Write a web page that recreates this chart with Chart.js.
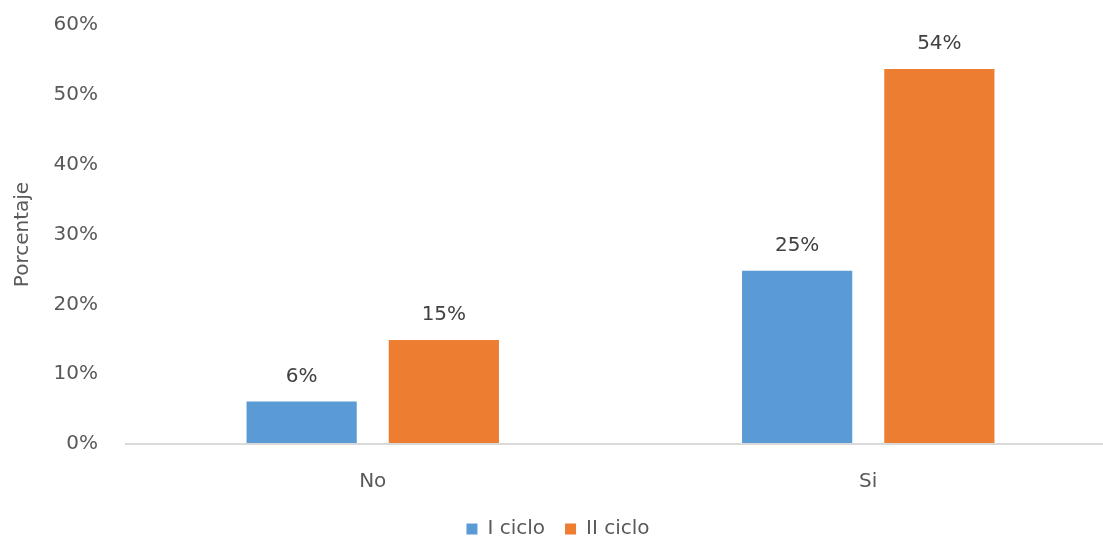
<!DOCTYPE html>
<html>
<head>
<meta charset="utf-8">
<script src="https://cdn.jsdelivr.net/npm/chart.js@4.4.0/dist/chart.umd.min.js"></script>
<style>
  html, body { margin: 0; padding: 0; background: #fff; overflow: hidden; }
  #wrap { position: relative; width: 1116px; height: 549px; }
</style>
</head>
<body>
<div id="wrap"><canvas id="chart"></canvas></div>
<script>
const categories = ["No", "Si"];
const seriesNames = ["I ciclo", "II ciclo"];
const cicloI = [6.1, 24.8];
const cicloII = [14.9, 53.7];
const yTicks = [0, 10, 20, 30, 40, 50, 60];

const FONT = "'DejaVu Sans', sans-serif";
const TEXT = "#595959";

// value labels above each bar
const barLabels = {
    id: "barLabels",
    afterDatasetsDraw(chart) {
        const ctx = chart.ctx;
        ctx.save();
        ctx.font = "20px " + FONT;
        ctx.fillStyle = "#404040";
        ctx.textAlign = "center";
        ctx.textBaseline = "middle";
        chart.data.datasets.forEach((ds, i) => {
            chart.getDatasetMeta(i).data.forEach((bar, j) => {
                ctx.fillText(Math.round(ds.data[j]) + "%", bar.x, bar.y - 25);
            });
        });
        ctx.restore();
    }
};

new Chart(document.getElementById("chart"), {
    type: "bar",
    data: {
        labels: categories,
        datasets: [
            { label: seriesNames[0], data: cicloI, backgroundColor: "#5B9BD5" },
            { label: seriesNames[1], data: cicloII, backgroundColor: "#ED7D31" }
        ]
    },
    options: {
        responsive: true,
        maintainAspectRatio: false,
        animation: false,
        categoryPercentage: 0.574,
        barPercentage: 0.775,
        layout: { padding: { top: 25, right: 0, left: 0, bottom: 0 } },
        plugins: {
            tooltip: { enabled: false },
            legend: {
                position: "bottom",
                labels: {
                    font: { family: FONT, size: 20 },
                    color: TEXT,
                    boxWidth: 11,
                    boxHeight: 11,
                    padding: 20
                }
            }
        },
        scales: {
            x: {
                grid: { display: false },
                border: { display: false },
                ticks: { font: { family: FONT, size: 20 }, color: TEXT, padding: 18 },
                afterFit(scale) { scale.height = 55; }
            },
            y: {
                min: yTicks[0],
                max: yTicks[yTicks.length - 1],
                afterBuildTicks(scale) { scale.ticks = yTicks.map(v => ({ value: v })); },
                border: { display: false },
                grid: {
                    drawTicks: false,
                    color: c => (c.tick && c.tick.value === 0) ? "#D9D9D9" : "rgba(0,0,0,0)",
                    lineWidth: 2
                },
                ticks: {
                    font: { family: FONT, size: 20 },
                    color: TEXT,
                    padding: 27,
                    callback: v => v + "%"
                },
                title: {
                    display: true,
                    text: "Porcentaje",
                    font: { family: FONT, size: 20 },
                    color: TEXT,
                    padding: { top: 11, bottom: 0 }
                },
                afterFit(scale) {
                    scale.width = 125;
                    scale.paddingTop = 0;
                    scale.paddingBottom = 0;
                }
            }
        }
    },
    plugins: [barLabels]
});
</script>
</body>
</html>
